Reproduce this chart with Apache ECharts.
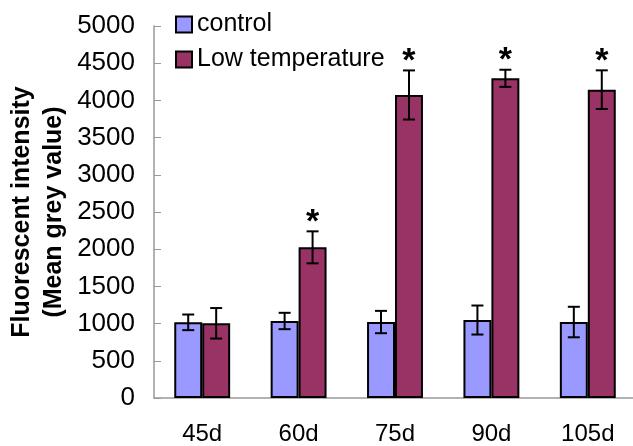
<!DOCTYPE html>
<html>
<head>
<meta charset="utf-8">
<script src="https://cdn.jsdelivr.net/npm/echarts@6/dist/echarts.min.js"></script>
<style>
html,body{margin:0;padding:0;background:#fff;}
#container{width:633px;height:446px;}
</style>
</head>
<body>
<div id="container"></div>
<script>
var categories = ['45d', '60d', '75d', '90d', '105d'];
var control = [1017, 1035, 1021, 1048, 1021];
var controlErr = [105, 110, 150, 195, 205];
var lowTemp = [1004, 2025, 4073, 4297, 4144];
var lowTempErr = [205, 215, 330, 115, 260];
var lowTempSig = [0, 1, 1, 1, 1];

var gapRatio = 0.42;
var font = '"Liberation Sans", Arial, sans-serif';

function errData(mean, err, sig) {
    var res = [];
    for (var i = 0; i < mean.length; i++) {
        res.push([i, mean[i], err[i], sig ? sig[i] : 0]);
    }
    return res;
}

// draws error bar (and star) over the bar, side -1 = left bar, 1 = right bar
function errRender(side) {
    return function (params, api) {
        var barW = api.size([1, 0])[0] * (1 - gapRatio) / 2;
        var c = api.coord([api.value(0), api.value(1)]);
        var x = c[0] + side * barW / 2;
        var top = api.coord([api.value(0), api.value(1) + api.value(2)])[1];
        var bot = api.coord([api.value(0), api.value(1) - api.value(2)])[1];
        var st = { stroke: '#000', lineWidth: 2 };
        var kids = [
            { type: 'line', shape: { x1: x, y1: top, x2: x, y2: bot }, style: st },
            { type: 'line', shape: { x1: x - 6, y1: top, x2: x + 6, y2: top }, style: st },
            { type: 'line', shape: { x1: x - 6, y1: bot, x2: x + 6, y2: bot }, style: st }
        ];
        if (api.value(3)) {
            kids.push({
                type: 'text',
                style: {
                    text: '*', x: x, y: top + 8,
                    fontSize: 34, fontWeight: 'bold', fontFamily: font,
                    fill: '#000', align: 'center', verticalAlign: 'bottom'
                }
            });
        }
        return { type: 'group', children: kids };
    };
}

var option = {
    backgroundColor: '#fff',
    animation: false,
    textStyle: { fontFamily: font },
    grid: { left: 154, right: -3, top: 26, bottom: 48, outerBoundsMode: 'none', containLabel: false },
    legend: {
        data: ['control', 'Low temperature'],
        orient: 'vertical',
        left: 170,
        top: 7,
        icon: 'rect',
        itemWidth: 16,
        itemHeight: 16,
        itemGap: 10,
        textStyle: { fontSize: 25, color: '#000', fontFamily: font }
    },
    xAxis: {
        type: 'category',
        data: categories,
        axisLine: { lineStyle: { color: '#999', width: 1.5 } },
        axisTick: { inside: true, length: 7, lineStyle: { color: '#999' } },
        axisLabel: { fontSize: 24, color: '#000', margin: 24, fontFamily: font }
    },
    yAxis: {
        type: 'value',
        min: 0,
        max: 5000,
        interval: 500,
        name: 'Fluorescent intensity\n(Mean grey value)',
        nameLocation: 'middle',
        nameGap: 84,
        nameMoveOverlap: false,
        nameTextStyle: { fontSize: 25, fontWeight: 'bold', color: '#000', lineHeight: 32, fontFamily: font },
        splitLine: { show: false },
        axisLine: { show: true, lineStyle: { color: '#999', width: 1.5 } },
        axisTick: { show: true, inside: true, length: 7, lineStyle: { color: '#999' } },
        axisLabel: {
            fontSize: 26, color: '#000', margin: 19, fontFamily: font,
            formatter: function (v) { return String(v); }
        }
    },
    series: [
        {
            name: 'control',
            type: 'bar',
            data: control,
            barGap: '0%',
            barCategoryGap: (gapRatio * 100) + '%',
            itemStyle: { color: '#9999ff', borderColor: '#000', borderWidth: 2 }
        },
        {
            name: 'Low temperature',
            type: 'bar',
            data: lowTemp,
            itemStyle: { color: '#993366', borderColor: '#000', borderWidth: 2 }
        },
        {
            name: 'controlErr',
            type: 'custom',
            data: errData(control, controlErr),
            encode: { x: 0, y: 1 },
            renderItem: errRender(-1),
            z: 5
        },
        {
            name: 'lowTempErr',
            type: 'custom',
            data: errData(lowTemp, lowTempErr, lowTempSig),
            encode: { x: 0, y: 1 },
            renderItem: errRender(1),
            z: 5
        }
    ]
};

var chart = echarts.init(document.getElementById('container'));
chart.setOption(option);
</script>
</body>
</html>
